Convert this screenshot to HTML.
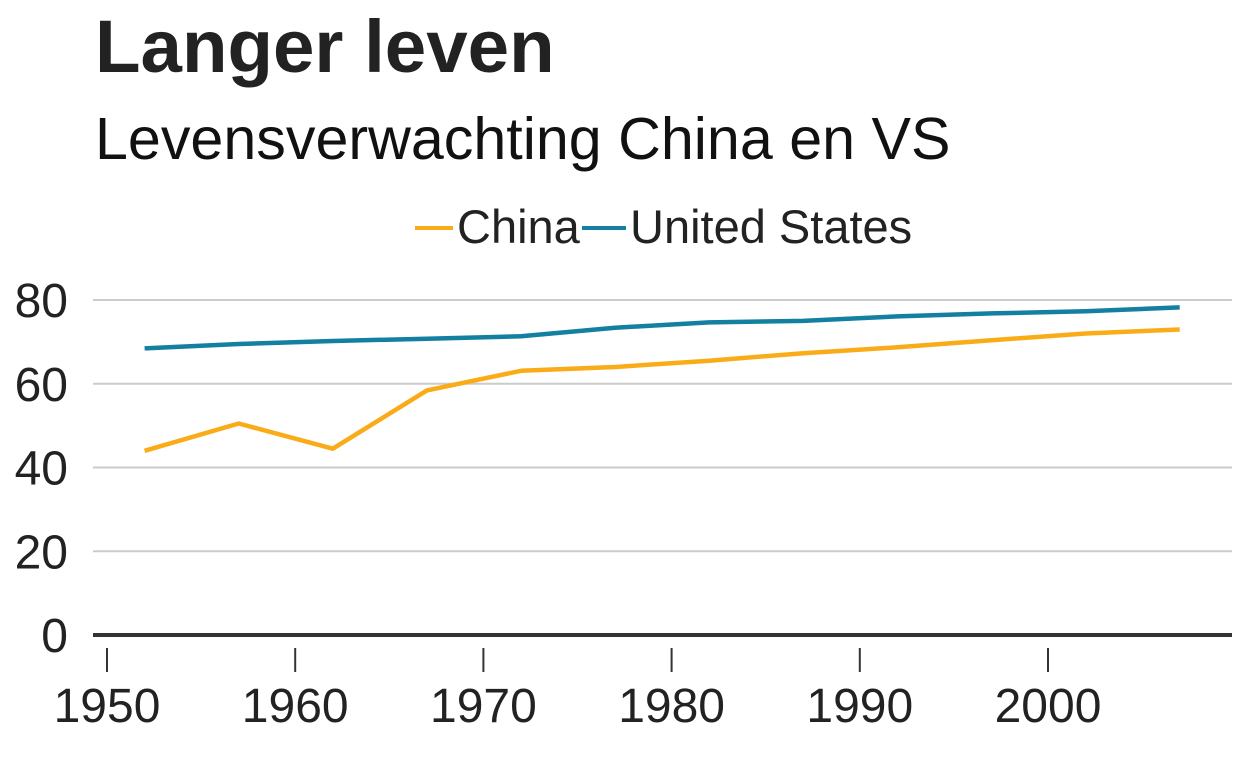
<!DOCTYPE html>
<html><head><meta charset="utf-8">
<style>
html,body{margin:0;padding:0;background:#fff;}
svg{display:block;font-family:"Liberation Sans",Arial,sans-serif;}
</style></head>
<body>
<svg id="chart" width="1248" height="768" viewBox="0 0 1248 768">
  <text x="95" y="72" font-size="74.5" font-weight="bold" fill="#222">Langer leven</text>
  <text x="95" y="159" font-size="59.2" fill="#111">Levensverwachting China en VS</text>
  <g>
    <line x1="415" y1="228" x2="453" y2="228" stroke="#FAAB18" stroke-width="4"/>
    <text x="457" y="243" font-size="47" fill="#222">China</text>
    <line x1="582" y1="228" x2="626" y2="228" stroke="#1380A1" stroke-width="4"/>
    <text x="630" y="243" font-size="47" fill="#222">United States</text>
  </g>
  <g id="grid"></g>
  <g id="xaxis"></g>
  <g id="series"></g>
</svg>
<script>
const years = [1952,1957,1962,1967,1972,1977,1982,1987,1992,1997,2002,2007];
const china = [44.0,50.5,44.5,58.4,63.1,64.0,65.5,67.3,68.7,70.4,72.0,72.96];
const usa = [68.44,69.49,70.21,70.76,71.34,73.38,74.65,75.02,76.09,76.81,77.31,78.24];
const yTicks = [0,20,40,60,80];
const xTicks = [1950,1960,1970,1980,1990,2000];

const NS = "http://www.w3.org/2000/svg";
function x(v){ return 107 + (v-1950)*(1048-107)/50; }
function y(v){ return 635 - v*(635-300)/80; }
function mk(tag, attrs, parent){
  const e = document.createElementNS(NS, tag);
  for (const k in attrs) e.setAttribute(k, attrs[k]);
  parent.appendChild(e); return e;
}
const grid = document.getElementById('grid');
yTicks.forEach(t=>{
  if (t!==0){
    const l = mk('line',{x1:93,x2:1232,y1:y(t),y2:y(t),stroke:'#cbcbcb','stroke-width':2},grid);
    
    
  }
  const tx = mk('text',{x:68,y:y(t)+17,'font-size':48,fill:'#222','text-anchor':'end'},grid);
  tx.textContent = t;
  
  
});
const xa = document.getElementById('xaxis');
xTicks.forEach(t=>{
  const l = mk('line',{x1:x(t),x2:x(t),y1:648,y2:672,stroke:'#333','stroke-width':2},xa);
  
  
  const tx = mk('text',{x:x(t),y:722,'font-size':48,fill:'#222','text-anchor':'middle'},xa);
  tx.textContent = t;
  
  
});
const base = mk('line',{x1:93,x2:1232,y1:635,y2:635,stroke:'#333','stroke-width':4},xa);



const sg = document.getElementById('series');
function drawLine(vals, color, name){
  const d = vals.map((v,i)=>(i?'L':'M')+x(years[i]).toFixed(1)+','+y(v).toFixed(1)).join(' ');
  const p = mk('path',{d:d,fill:'none',stroke:color,'stroke-width':4.5,'stroke-linejoin':'round'},sg);
  
  
}
drawLine(usa,'#1380A1','line-united-states');
drawLine(china,'#FAAB18','line-china');
</script>
</body></html>
